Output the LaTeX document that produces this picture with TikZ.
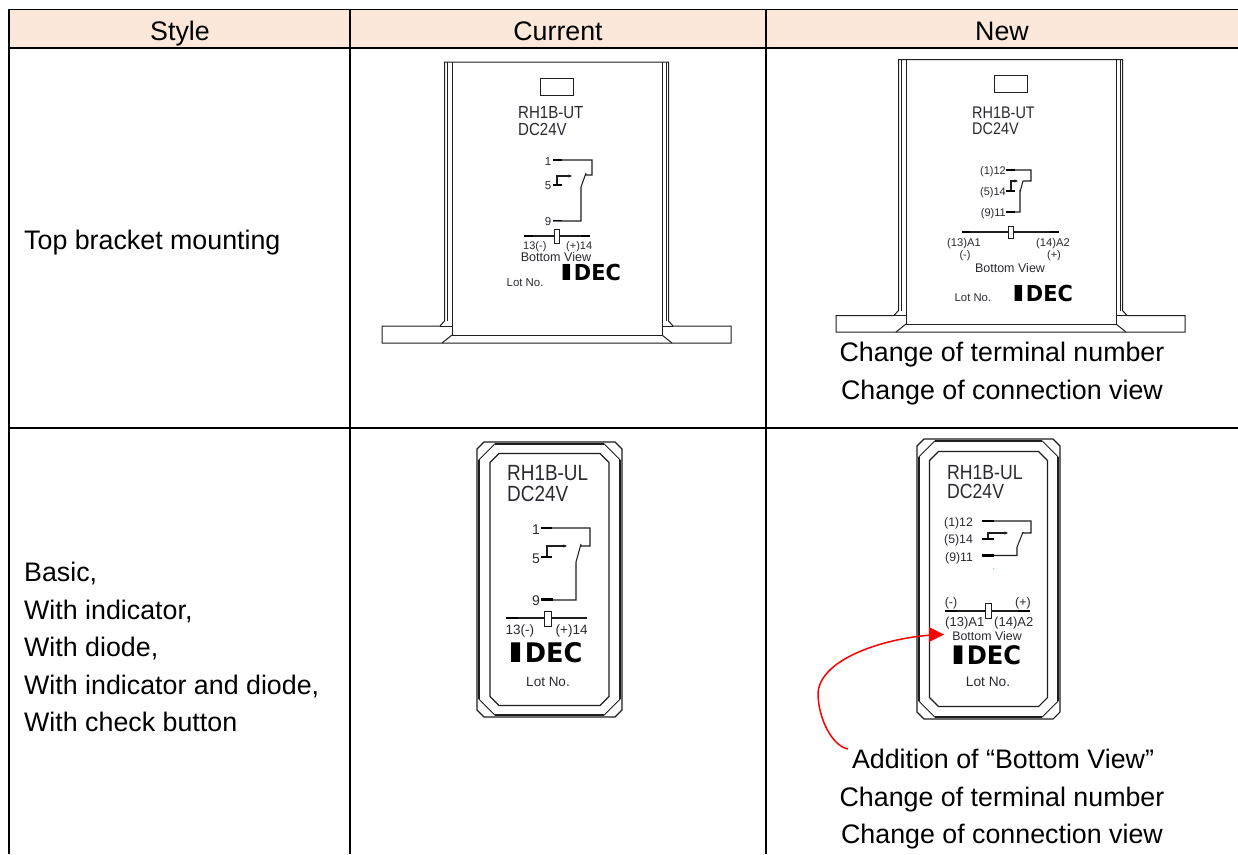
\documentclass[tikz,border=0pt]{standalone}
\usepackage{fontspec}
\usetikzlibrary{arrows.meta}
\setmainfont{Liberation Sans}
\newfontfamily\narrowf[FakeStretch=.86]{Liberation Sans}
\newfontfamily\idecd[FakeStretch=.95]{DejaVu Sans}
\newfontfamily\ideci[FakeStretch=1.8]{DejaVu Sans}
\definecolor{hdr}{HTML}{FCE8DA}
\definecolor{ink}{HTML}{1E1E1E}
\definecolor{lab}{HTML}{2A2A34}
\tikzset{x=1pt,y=-1pt,
 sz/.style={inner sep=0pt,text=lab,font=\fontsize{#1}{#1}\selectfont,text height=0.72*#1*1pt,text depth=0pt},
 cell/.style={sz=26.8,text=black},
 lefttext/.style={cell,anchor=west},
 model/.style={sz=#1,font=\narrowf\fontsize{#1}{#1}\selectfont,anchor=west},
 logo/.style={inner sep=0pt,text=black,font=\bfseries\fontsize{#1}{#1}\selectfont,text height=0.73*#1*1pt,text depth=0pt},
 gridline/.style={line width=1.7pt,black},
 body/.style={line width=1pt,ink},
 wire/.style={line width=1.05pt,ink},
 swtip/.style={-{Stealth[length=3.5pt,width=3pt]}},
 pinline/.style={line width=2.6pt,black},
 thinpin/.style={line width=1.7pt,black},
}
\newcommand{\idectext}{{\ideci I}{\idecd DEC}}
% x-shift, window top, top, flange top, inner, bottom
\newcommand{\bracket}[6]{%
 \begin{scope}[xshift=#1]
 \draw[body] (444.5,#3)--(444.5,#4-5)--(440,#4)--(382,#4)--(382,#6)--(731,#6)--(731,#4)--(673,#4)--(668.5,#4-5)--(668.5,#3)--cycle;
 \draw[body] (447,#3)--(447,#4-5) (666,#3)--(666,#4-5);
 \draw[body] (452,#3)--(452,#5)--(662,#5)--(662,#3);
 \draw[body] (440,#4)--(452,#4) (662,#4)--(673,#4);
 \draw[body] (452,#5)--(442,#6) (662,#5)--(672,#6);
 \draw[body] (540,#2) rectangle (573,#2+17);
 \end{scope}}
% x, y, w, h, inner offset x, inner offset y
\newcommand{\basebox}[6]{%
 \begin{scope}[shift={(#1,#2)}]
 \draw[line width=1.1pt,ink] (7,0)--(#3-7,0)--(#3,7)--(#3,#4-7)--(#3-7,#4)--(7,#4)--(0,#4-7)--(0,7)--cycle;
 \draw[line width=1.7pt,ink] (18,1.8)--(#3-18,1.8) (18,#4-1.8)--(#3-18,#4-1.8) (1.8,18)--(1.8,#4-18) (#3-1.8,18)--(#3-1.8,#4-18);
 \draw[line width=1.1pt,ink] (#5+9,#6)--(#3-#5-9,#6)--(#3-#5,#6+9)--(#3-#5,#4-#6-9)--(#3-#5-9,#4-#6)--(#5+9,#4-#6)--(#5,#4-#6-9)--(#5,#6+9)--cycle;
 \draw[line width=.9pt,ink] (18,1.8)--(1.8,18) (#3-18,1.8)--(#3-1.8,18) (18,#4-1.8)--(1.8,#4-18) (#3-18,#4-1.8)--(#3-1.8,#4-18);
 \end{scope}}
\begin{document}
\begin{tikzpicture}
\useasboundingbox (0,0) rectangle (1238,854);
\fill[white] (0,0) rectangle (1238,854);
\fill[hdr] (9,10) rectangle (1238,48);
\draw[gridline] (8.2,9.5)--(1238,9.5) (9,48)--(1238,48) (9,428)--(1238,428);
\draw[gridline] (9,9.5)--(9,854) (350,9.5)--(350,854) (766,9.5)--(766,854);
\node[cell] (h1) at (180,30.5) {Style};
\node[cell] (h2) at (558,30.5) {Current};
\node[cell] (h3) at (1002,30.5) {New};
\node[lefttext] (s1) at (24,240) {Top bracket mounting};
\node[lefttext] (b1) at (24,572) {Basic,};
\node[lefttext] (b2) at (24,609.5) {With indicator,};
\node[lefttext] (b3) at (24,647) {With diode,};
\node[lefttext] (b4) at (24,684.5) {With indicator and diode,};
\node[lefttext] (b5) at (24,722) {With check button};
%% current, top
\bracket{0}{78}{62}{326}{335}{343}
\node[model=17.5] (c1a) at (518,112) {RH1B-UT};
\node[model=17.5] (c1b) at (518,129) {DC24V};
\node[sz=11.5,anchor=center] (p1) at (548,161) {1};
\node[sz=11.5,anchor=center] (p5) at (548,185.5) {5};
\node[sz=11.5,anchor=center] (p9) at (548,221) {9};
\draw[wire] (561,160)--(592,160)--(592,175)--(585,175) (581,187)--(586,173) (581,187)--(581,221)--(553,221);
\draw[wire,swtip] (557,185)--(557,176)--(572,176);
\draw[thinpin] (553,220.5)--(562,220.5);
\draw[pinline] (553,160)--(562,160) (553,185)--(562,185);
\draw[wire] (524,236)--(554,236) (559,236)--(590,236);
\draw[line width=.8pt,ink] (554,229) rectangle (559,243);
\draw[pinline] (524,236)--(533,236) (581,236)--(590,236);
\node[sz=11,anchor=west] (c1) at (523,245.5) {13(-)};
\node[sz=11,anchor=west] (c2) at (566,245.5) {(+)14};
\node[sz=12.6] (c3) at (556,257) {Bottom View};
\node[sz=11.4,anchor=west] (c4) at (506.5,282) {Lot No.};
\node[logo=22,anchor=west] (c5) at (559,272.5) {\idectext};
%% new, top
\bracket{454}{75}{59.5}{315.5}{324}{332}
\node[model=16.8] (n1a) at (972,112.5) {RH1B-UT};
\node[model=16.8] (n1b) at (972,128.5) {DC24V};
\node[sz=11,anchor=east] (q1) at (1006,171) {(1)12};
\node[sz=11,anchor=east] (q5) at (1006,192) {(5)14};
\node[sz=11,anchor=east] (q9) at (1006,212.5) {(9)11};
\draw[wire] (1015,170)--(1031,170)--(1031,181)--(1023,181) (1020,192)--(1023,181) (1020,190)--(1020,212)--(1014,212);
\draw[wire,swtip] (1011,191)--(1011,181)--(1018,181);
\draw[thinpin] (1006,170)--(1015,170) (1006,212)--(1015,212);
\draw[pinline] (1006,191)--(1015,191);
\draw[wire] (962,232)--(1008,232) (1013,232)--(1059,232);
\draw[line width=.8pt,ink] (1008,226) rectangle (1013,238);
\draw[thinpin] (962,232)--(970,232) (1050,232)--(1059,232);
\node[sz=11.2,anchor=west] (n1) at (947,242) {(13)A1};
\node[sz=11.2,anchor=west] (n2) at (1036,242) {(14)A2};
\node[sz=11] (n3) at (965,255) {(-)};
\node[sz=11] (n4) at (1054,255) {(+)};
\node[sz=12.5] (n5) at (1010,268) {Bottom View};
\node[sz=11.3,anchor=west] (n6) at (954.5,297) {Lot No.};
\node[logo=22,anchor=west] (n7) at (1011,293) {\idectext};
\node[cell] (t1) at (1002,352) {Change of terminal number};
\node[cell] (t2) at (1002,390) {Change of connection view};
%% current, bottom
\basebox{477}{442}{145}{275}{13}{11.5}
\node[model=22] (d1) at (507,473) {RH1B-UL};
\node[model=22] (d2) at (507,494) {DC24V};
\node[sz=14] (e1) at (536,529) {1};
\node[sz=14] (e5) at (536,558) {5};
\node[sz=14] (e9) at (536,600) {9};
\draw[wire] (552,528)--(590,528)--(590,546)--(580,546) (576,562)--(581,544) (576,562)--(576,600)--(550,600);
\draw[wire,swtip] (547,557)--(547,546)--(567,546);
\draw[pinline] (541,528)--(552,528) (541,557)--(552,557) (541,599.5)--(553,599.5);
\draw[wire] (518,618)--(544,618) (551,618)--(587,618);
\draw[pinline] (506,618)--(518,618);
\draw[line width=.9pt,ink] (544,611) rectangle (551,626);
\node[sz=13.5,anchor=west] (e2) at (505.5,629.5) {13(-)};
\node[sz=13.5,anchor=west] (e3) at (555.5,629.5) {(+)14};
\node[logo=27,anchor=west] (e4) at (506.5,652.5) {\idectext};
\node[sz=13.5] (e6) at (548,682) {Lot No.};
%% new, bottom
\basebox{917}{439}{143}{280}{12.5}{12.5}
\node[model=20.5] (f1) at (947,472) {RH1B-UL};
\node[model=20.5] (f2) at (947,491) {DC24V};
\node[sz=12.3,anchor=west] (g1) at (944,522) {(1)12};
\node[sz=12.3,anchor=west] (g5) at (944,539) {(5)14};
\node[sz=12.3,anchor=west] (g9) at (945,557) {(9)11};
\draw[wire] (994,521)--(1031,521)--(1031,533)--(1022,533) (1017,547)--(1023,532) (1017,547)--(1017,555.5)--(994,555.5);
\draw[wire,swtip] (988,539)--(988,533)--(1008,533);
\draw[pinline] (982,521)--(994,521) (982,539)--(994,539) (982,555.5)--(994,555.5);
\fill[cyan!60] (992.5,567.5) rectangle (993.5,568.5);
\draw[wire] (945,611)--(985,611) (991,611)--(1030,611);
\draw[line width=.8pt,ink] (985,603) rectangle (991,618);
\draw[pinline] (945,611)--(957,611) (1018,611)--(1030,611);
\node[sz=12.5] (g2) at (951,602) {(-)};
\node[sz=12.5] (g3) at (1023,602) {(+)};
\node[sz=13,anchor=west] (g4) at (945,622) {(13)A1};
\node[sz=13,anchor=west] (g6) at (994,622) {(14)A2};
\node[sz=12.4] (g7) at (987,636) {Bottom View};
\node[logo=25.5,anchor=west] (g8) at (949.5,655.5) {\idectext};
\node[sz=13.7] (g10) at (988,682) {Lot No.};
\node[cell] (t3) at (1003,759) {Addition of “Bottom View”};
\node[cell] (t4) at (1002,797) {Change of terminal number};
\node[cell] (t5) at (1002,834) {Change of connection view};
\coordinate (arrS) at (848,749);
\coordinate (arrE) at (944,634.5);
\fill[red] (arrE)--(929,627)--(929,642)--cycle;
\draw[red,line width=1.5pt] (arrS) .. controls (832,746) and (818,718) .. (818,693) .. controls (820,660) and (880,639) .. (931,635);
\end{tikzpicture}
\end{document}
